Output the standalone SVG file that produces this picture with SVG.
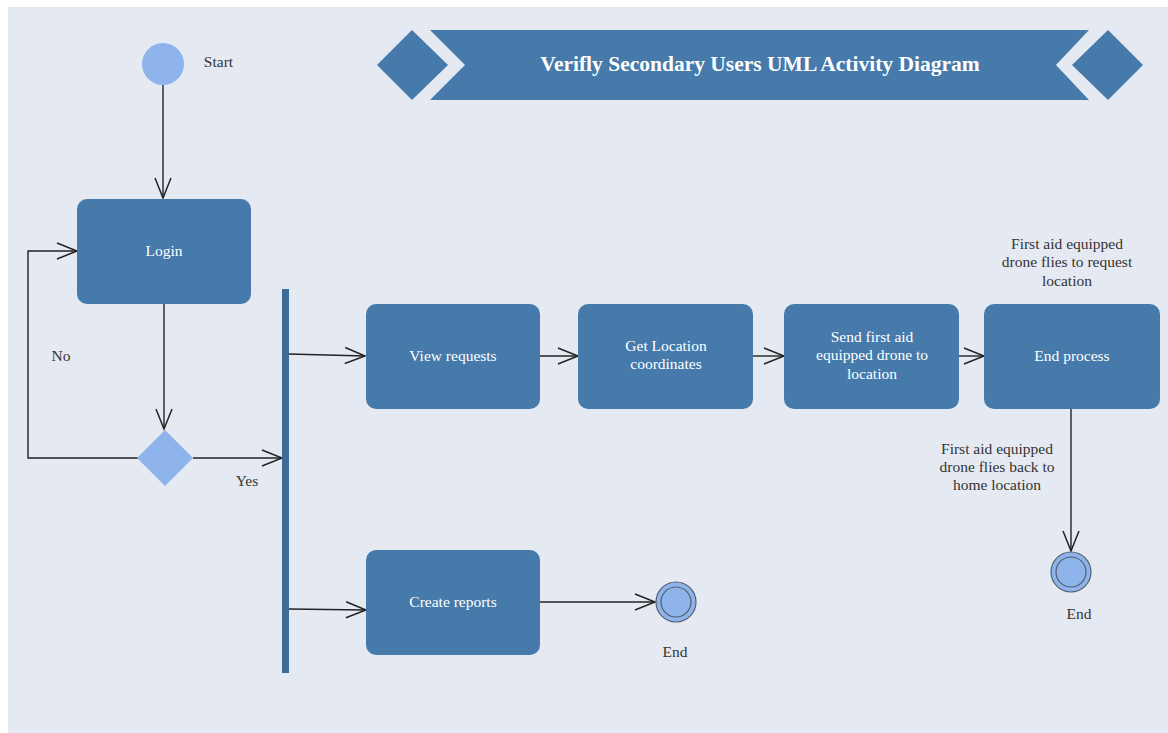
<svg xmlns="http://www.w3.org/2000/svg" width="1168" height="733" viewBox="0 0 1168 733" font-family="'Liberation Serif', 'Times New Roman', serif">
  <defs>
    <!-- open V arrowhead used by every flow -->
    <marker id="arrow" markerUnits="userSpaceOnUse" markerWidth="24" markerHeight="24" viewBox="-22 -12 24 24" refX="0" refY="0" orient="auto">
      <path d="M-20,-8 L0,0 L-20,8" fill="none" stroke="#222" stroke-width="1.5"/>
    </marker>
    <style>
      .act { fill: #457aab; }
      .act-text { font-size: 15.5px; fill: #ffffff; text-anchor: middle; }
      .label { font-size: 15.5px; fill: #333333; text-anchor: middle; }
      .flow { fill: none; stroke: #222; stroke-width: 1.4; marker-end: url(#arrow); }
      .banner { fill: #457aab; }
      .final { fill: #8fb4ec; stroke: #555e70; stroke-width: 1.2; }
    </style>
  </defs>

  <rect x="0" y="0" width="1168" height="733" fill="#ffffff"/>
  <rect x="8" y="7" width="1160" height="726" fill="#e5eaf2"/>

  <!-- title banner -->
  <g id="title">
    <polygon class="banner" points="377,65 412,30 448,65 412,100"/>
    <polygon class="banner" points="430,30 1089,30 1056,65 1089,100 430,100 465,65"/>
    <polygon class="banner" points="1072,65 1108,30 1143,65 1108,100"/>
    <text x="760" y="71" font-size="21.5" font-weight="bold" fill="#ffffff" text-anchor="middle">Verifly Secondary Users UML Activity Diagram</text>
  </g>

  <!-- connectors -->
  <g id="connectors">
    <line class="flow" x1="163" y1="85" x2="163" y2="198"/>
    <line class="flow" x1="164" y1="304" x2="164" y2="429"/>
    <polyline class="flow" points="138,458 28,458 28,251 77,251"/>
    <line class="flow" x1="193" y1="458" x2="282" y2="458"/>
    <line class="flow" x1="289" y1="354" x2="365" y2="356"/>
    <line class="flow" x1="540" y1="356" x2="578" y2="356"/>
    <line class="flow" x1="753" y1="356" x2="784" y2="356"/>
    <line class="flow" x1="959" y1="356" x2="984" y2="356"/>
    <line class="flow" x1="1071" y1="409" x2="1071" y2="551"/>
    <line class="flow" x1="289" y1="609" x2="366" y2="610"/>
    <line class="flow" x1="540" y1="602" x2="655" y2="602"/>
    <text class="label" x="61" y="361">No</text>
    <text class="label" x="247" y="486">Yes</text>
    <text class="label" x="1067" y="249">First aid equipped</text>
    <text class="label" x="1067" y="267">drone flies to request</text>
    <text class="label" x="1067" y="286">location</text>
    <text class="label" x="997" y="454">First aid equipped</text>
    <text class="label" x="997" y="472">drone flies back to</text>
    <text class="label" x="997" y="490">home location</text>
  </g>

  <g id="start">
    <circle cx="163" cy="64" r="21" fill="#8fb4ec"/>
    <text class="label" x="218.5" y="67">Start</text>
  </g>

  <g id="login">
    <rect class="act" x="77" y="199" width="174" height="105" rx="10"/>
    <text class="act-text" x="164" y="256">Login</text>
  </g>

  <g id="decision">
    <polygon points="165,430 193,458 165,486 137,458" fill="#8fb4ec"/>
  </g>

  <g id="fork">
    <rect x="282" y="289" width="7" height="384" fill="#3e6e98"/>
  </g>

  <g id="view-requests">
    <rect class="act" x="366" y="304" width="174" height="105" rx="10"/>
    <text class="act-text" x="453" y="361">View requests</text>
  </g>

  <g id="get-location">
    <rect class="act" x="578" y="304" width="175" height="105" rx="10"/>
    <text class="act-text" x="666" y="351">Get Location</text>
    <text class="act-text" x="666" y="369">coordinates</text>
  </g>

  <g id="send-drone">
    <rect class="act" x="784" y="304" width="175" height="105" rx="10"/>
    <text class="act-text" x="872" y="342">Send first aid</text>
    <text class="act-text" x="872" y="360">equipped drone to</text>
    <text class="act-text" x="872" y="379">location</text>
  </g>

  <g id="end-process">
    <rect class="act" x="984" y="304" width="176" height="105" rx="10"/>
    <text class="act-text" x="1072" y="361">End process</text>
  </g>

  <g id="end-right">
    <circle class="final" cx="1071" cy="572" r="20"/>
    <circle class="final" cx="1071" cy="572" r="15"/>
    <text class="label" x="1079" y="619">End</text>
  </g>

  <g id="create-reports">
    <rect class="act" x="366" y="550" width="174" height="105" rx="10"/>
    <text class="act-text" x="453" y="607">Create reports</text>
  </g>

  <g id="end-bottom">
    <circle class="final" cx="676" cy="602" r="20"/>
    <circle class="final" cx="676" cy="602" r="15"/>
    <text class="label" x="675" y="657">End</text>
  </g>
</svg>
